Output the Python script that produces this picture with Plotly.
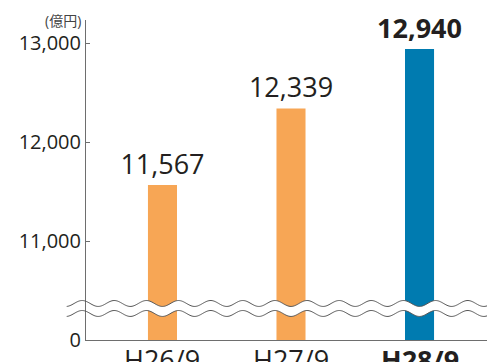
import numpy as np
import plotly.graph_objects as go

# Data
categories = ["H26/9", "H27/9", "H28/9"]
values = [11567, 12339, 12940]
bar_colors = ["#F7A655", "#F7A655", "#007BB0"]
tick_values = [0, 11000, 12000, 13000]
tick_labels = ["0", "11,000", "12,000", "13,000"]
unit_label = "(億円)"

# Broken axis: everything from 10,000 up is drawn offset so 11,000 sits one step above 0
BREAK = 10000


def to_axis(v):
    return v - BREAK if v >= BREAK else v


x_pos = list(range(len(categories)))
y_disp = [to_axis(v) for v in values]
text_labels = [f"{v:,}" for v in values]
text_labels[-1] = f"<b>{values[-1]:,}</b>"
cat_labels = categories[:-1] + [f"<b>{categories[-1]}</b>"]

X_RANGE = [-0.595, 2.525]
Y_RANGE = [0, 3233]
TEXT = "#231f20"
AXIS = "#6e6e6e"
FONT = "Open Sans, Noto Sans CJK JP, sans-serif"

fig = go.Figure()
fig.add_trace(go.Bar(
    x=x_pos, y=y_disp, width=0.226,
    marker=dict(color=bar_colors, line=dict(width=0)),
    text=text_labels, textposition="outside", cliponaxis=False,
    constraintext="none",
    textfont=dict(size=27, color=TEXT, family=FONT),
    hoverinfo="skip",
))

# Wavy break marks: two sine lines with a white band between them
def xp(xd):
    return (xd - X_RANGE[0]) / (X_RANGE[1] - X_RANGE[0])


def yp(yd):
    return (yd - Y_RANGE[0]) / (Y_RANGE[1] - Y_RANGE[0])


xs = np.linspace(-0.745, X_RANGE[1], 400)
amp = 30
upper = 369 - amp * np.cos(8 * np.pi * xs)
lower = 268 - amp * np.cos(8 * np.pi * xs)


def path_of(xv, yv):
    pts = [f"{xp(a):.5f},{yp(b):.5f}" for a, b in zip(xv, yv)]
    return "M" + " L".join(pts)


band_mask = xs >= X_RANGE[0] + 0.006
bx = xs[band_mask]
band = path_of(bx, upper[band_mask]) + " L" + " L".join(
    f"{xp(a):.5f},{yp(b):.5f}" for a, b in zip(bx[::-1], lower[band_mask][::-1])) + " Z"

fig.add_shape(type="path", path=band, xref="paper", yref="paper",
              fillcolor="white", line=dict(width=0), layer="above")
for wave in (upper, lower):
    fig.add_shape(type="path", path=path_of(xs, wave), xref="paper", yref="paper",
                  line=dict(color="#555555", width=1), layer="above")

fig.add_annotation(text=unit_label, xref="paper", yref="paper",
                   x=-0.007, y=1.0, xanchor="right", yanchor="middle",
                   showarrow=False, font=dict(size=14, color="#444444", family=FONT))

# Category labels under the baseline
for xv, lab in zip(x_pos, cat_labels):
    fig.add_annotation(text=lab, x=xv, xref="x", y=0, yref="paper",
                       xanchor="center", yanchor="top", yshift=1,
                       showarrow=False, font=dict(size=27, color=TEXT, family=FONT))

fig.update_layout(
    width=487, height=362,
    margin=dict(l=86, r=0, t=20, b=22),
    paper_bgcolor="white", plot_bgcolor="white",
    showlegend=False,
    font=dict(family=FONT, color=TEXT),
    xaxis=dict(
        range=X_RANGE, tickvals=x_pos, showticklabels=False,
        showline=True, linecolor=AXIS, linewidth=1,
        ticks="", showgrid=False, zeroline=False, automargin=False,
    ),
    yaxis=dict(
        range=Y_RANGE, automargin=False,
        tickvals=[to_axis(v) for v in tick_values] + [3232],
        ticktext=tick_labels + [""],
        showline=True, linecolor=AXIS, linewidth=1,
        ticks="inside", ticklen=4, tickcolor=AXIS,
        showgrid=False, zeroline=False,
        tickfont=dict(size=20, color=TEXT, family=FONT),
    ),
)

fig.write_html("out.html")
